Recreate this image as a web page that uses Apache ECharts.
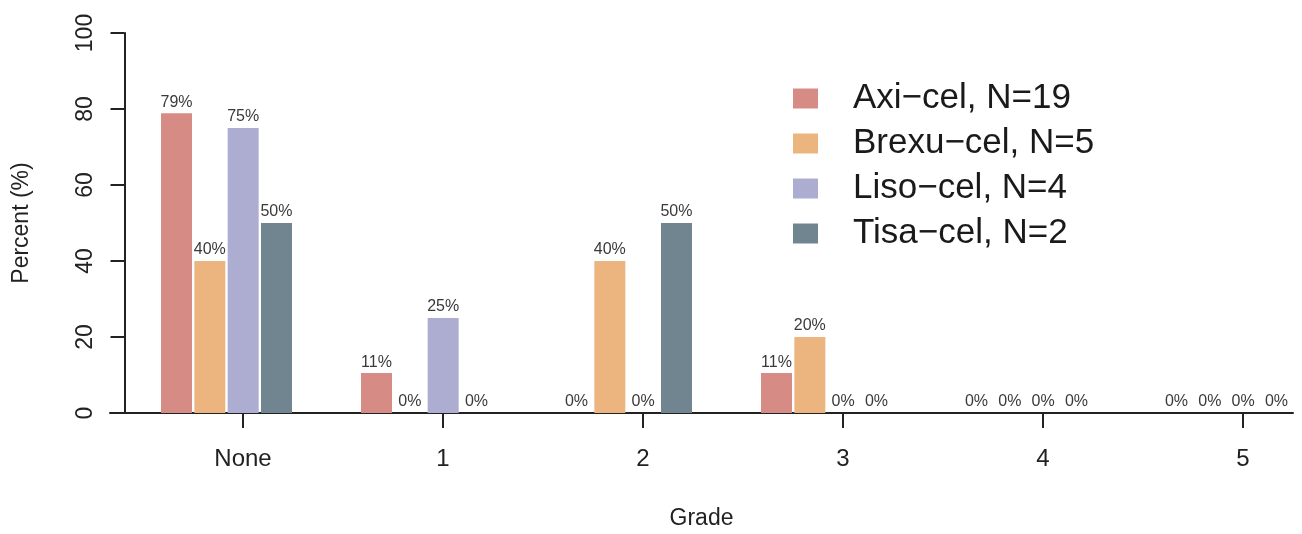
<!DOCTYPE html>
<html>
<head>
<meta charset="utf-8">
<script src="https://cdn.jsdelivr.net/npm/echarts@6/dist/echarts.min.js"></script>
<style>
html,body{margin:0;padding:0;background:#fff;}
#c{width:1302px;height:534px;}
</style>
</head>
<body>
<div id="c"></div>
<script>
const categories = ['None', '1', '2', '3', '4', '5'];
const seriesNames = ['Axi\u2212cel, N=19', 'Brexu\u2212cel, N=5', 'Liso\u2212cel, N=4', 'Tisa\u2212cel, N=2'];
const axiCel = [78.9, 10.5, 0, 10.5, 0, 0];
const brexuCel = [40, 0, 40, 20, 0, 0];
const lisoCel = [75, 25, 0, 0, 0, 0];
const tisaCel = [50, 0, 50, 0, 0, 0];
const yTicks = [0, 20, 40, 60, 80, 100];
const colors = ['#D68C84', '#ECB580', '#ADACD1', '#718591'];

const allValues = [axiCel, brexuCel, lisoCel, tisaCel];
const font = '"Liberation Sans", Arial, Helvetica, sans-serif';

const chart = echarts.init(document.getElementById('c'), null, {renderer: 'canvas'});

const series = allValues.map((vals, i) => ({
  name: seriesNames[i],
  type: 'bar',
  xAxisIndex: 0,
  yAxisIndex: 0,
  data: vals,
  barWidth: 31,
  barGap: '7.5%',
  itemStyle: {color: colors[i]},
  label: {
    show: true,
    position: 'top',
    distance: 3,
    fontFamily: font,
    fontSize: 16,
    color: '#3a3a3a',
    formatter: p => Math.round(p.value) + '%'
  },
  emphasis: {disabled: true}
}));

chart.setOption({
  animation: false,
  backgroundColor: '#fff',
  color: colors,
  grid: [
    {left: 126.5, width: 1200, top: 33, height: 380, containLabel: false, outerBoundsMode: 'none'},
    {left: 143, width: 1200, top: 33, height: 380, containLabel: false, outerBoundsMode: 'none'},
    {left: 110, width: 1183, top: 33, height: 380, containLabel: false, outerBoundsMode: 'none'}
  ],
  legend: {
    orient: 'vertical',
    left: 793,
    top: 76,
    padding: 0,
    itemWidth: 25,
    itemHeight: 20,
    itemGap: 0,
    icon: 'rect',
    data: seriesNames,
    textStyle: {
      fontFamily: font,
      fontSize: 35,
      color: '#1a1a1a',
      lineHeight: 45,
      padding: [0, 0, 0, 30]
    }
  },
  xAxis: [
    {
      gridIndex: 0, type: 'category', data: categories,
      axisLine: {show: false}, axisTick: {show: false}, axisLabel: {show: false},
      splitLine: {show: false}
    },
    {
      gridIndex: 1, type: 'category', data: categories,
      axisLine: {show: false},
      axisTick: {show: true, alignWithLabel: true, length: 15, lineStyle: {color: '#222', width: 2}},
      axisLabel: {show: true, fontFamily: font, fontSize: 24, color: '#222', margin: 34},
      splitLine: {show: false}
    },
    {
      gridIndex: 2, type: 'value', min: 0, max: 1,
      axisLine: {show: true, onZero: false, lineStyle: {color: '#222', width: 2}},
      axisTick: {show: false}, axisLabel: {show: false}, splitLine: {show: false},
      name: 'Grade', nameLocation: 'middle', nameGap: 94,
      nameTextStyle: {fontFamily: font, fontSize: 23, color: '#222'}
    }
  ],
  yAxis: [
    {
      gridIndex: 0, type: 'value', min: 0, max: 100, interval: 20,
      offset: 2,
      axisLine: {show: true, lineStyle: {color: '#222', width: 2}},
      axisTick: {show: true, length: 14, lineStyle: {color: '#222', width: 2}},
      axisLabel: {
        show: true, rotate: 90, fontFamily: font, fontSize: 23, color: '#222', margin: 27,
        formatter: v => (yTicks.indexOf(v) >= 0 ? String(v) : '')
      },
      splitLine: {show: false},
      name: 'Percent (%)', nameLocation: 'middle', nameGap: 91, nameRotate: 90,
      nameTextStyle: {fontFamily: font, fontSize: 23, color: '#222'}
    },
    {gridIndex: 1, type: 'value', min: 0, max: 100, show: false},
    {gridIndex: 2, type: 'value', min: 0, max: 100, show: false}
  ],
  series: series
});
</script>
</body>
</html>
